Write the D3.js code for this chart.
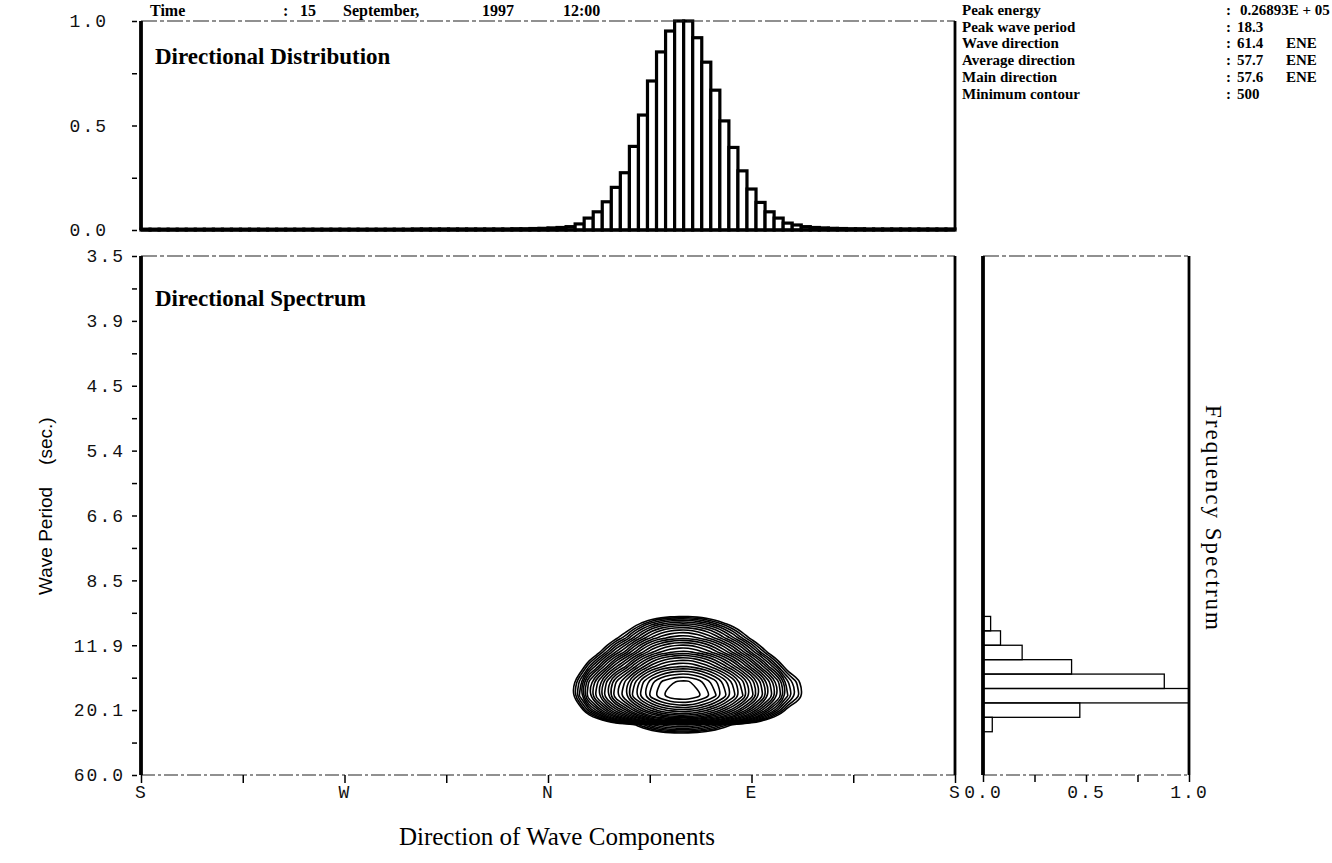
<!DOCTYPE html>
<html>
<head>
<meta charset="utf-8">
<script src="https://cdn.jsdelivr.net/npm/d3@7/dist/d3.min.js"></script>
<style>
  body { margin: 0; background: #fff; }
  svg { display: block; }
</style>
</head>
<body>
<div id="chart"></div>
<script>

// directional distribution, 4 degree bins, bin 0 starts at S (S, W, N, E, S)
var dist_values = [
  0.004, 0.004, 0.004, 0.004, 0.004, 0.004, 0.004, 0.004, 0.004, 0.004,
  0.004, 0.004, 0.004, 0.004, 0.004, 0.004, 0.004, 0.004, 0.004, 0.004,
  0.004, 0.004, 0.004, 0.004, 0.004, 0.004, 0.004, 0.004, 0.004, 0.004,
  0.005, 0.005, 0.005, 0.005, 0.005, 0.005, 0.005, 0.005, 0.005, 0.005,
  0.005, 0.006, 0.006, 0.007, 0.008, 0.010, 0.012, 0.016, 0.029, 0.057,
  0.087, 0.135, 0.204, 0.274, 0.400, 0.550, 0.713, 0.852, 0.952, 1.000,
  1.000, 0.920, 0.803, 0.669, 0.522, 0.395, 0.283, 0.196, 0.132, 0.087,
  0.057, 0.033, 0.024, 0.016, 0.012, 0.010, 0.008, 0.007, 0.006, 0.006,
  0.005, 0.005, 0.005, 0.005, 0.005, 0.005, 0.005, 0.005, 0.005, 0.005
];

// frequency spectrum, 36 bins from highest frequency (3.5 s) down to lowest (60 s)
var spec_values = [
  0, 0, 0, 0, 0, 0, 0, 0, 0, 0,
  0, 0, 0, 0, 0, 0, 0, 0, 0, 0,
  0, 0, 0, 0, 0, 0.037, 0.085, 0.19, 0.43, 0.88,
  1.0, 0.47, 0.045, 0, 0, 0
];

var period_labels = ["3.5", "3.9", "4.5", "5.4", "6.6", "8.5", "11.9", "20.1", "60.0"];
var dir_labels = ["S", "W", "N", "E", "S"];
var dist_labels = ["0.0", "0.5", "1.0"];
var spec_labels = ["0.0", "0.5", "1.0"];

var info_labels = ["Peak energy", "Peak wave period", "Wave direction", "Average direction", "Main direction", "Minimum contour"];
var info_values = ["0.26893E + 05", "18.3", "61.4", "57.7", "57.6", "500"];
var info_units = ["", "", "ENE", "ENE", "ENE", ""];

var peak_energy = 26893;
var min_contour = 500;
var n_levels = 28;

var W = 1332, H = 863;
var svg = d3.select("#chart").append("svg").attr("width", W).attr("height", H);

var serif = "'Liberation Serif', 'Times New Roman', serif";
var mono = "'Liberation Mono', 'DejaVu Sans Mono', monospace";

// panels
var top_p = {x0: 141, x1: 955, y0: 21, y1: 230};
var main_p = {x0: 141, x1: 955, y0: 256, y1: 775};
var freq_p = {x0: 983, x1: 1189, y0: 256, y1: 775};

var f_max = 1 / 3.5, f_min = 1 / 60;

var xDir = d3.scaleLinear().domain([0, 360]).range([main_p.x0, main_p.x1]);
var yDist = d3.scaleLinear().domain([0, 1]).range([top_p.y1, top_p.y0]);
var yFreq = d3.scaleLinear().domain([f_max, f_min]).range([main_p.y0, main_p.y1]);
var xSpec = d3.scaleLinear().domain([0, 1]).range([freq_p.x0, freq_p.x1]);

var dir_bin = 360 / dist_values.length;
var f_bin = (f_max - f_min) / spec_values.length;

// title line at the very top
var title_g = svg.append("g")
  .style("font-family", serif).style("font-size", "16px").style("font-weight", "bold");
[["Time", 150], [":", 283], ["15", 300], ["September,", 343], ["1997", 482], ["12:00", 563]].forEach(function(t) {
  title_g.append("text").attr("x", t[1]).attr("y", 16).text(t[0]);
});

// ---------- directional distribution ----------
svg.append("g")
  .selectAll("rect")
  .data(dist_values)
  .enter()
  .append("rect")
    .attr("x", function(d, i) { return xDir(i * dir_bin); })
    .attr("width", function() { return xDir(dir_bin) - xDir(0); })
    .attr("y", function(d) { return yDist(d); })
    .attr("height", function(d) { return yDist(0) - yDist(d); })
    .attr("fill", "white")
    .attr("stroke", "black")
    .attr("stroke-width", 3.2);

function frame(p, dashTop, dashBottom) {
  var g = svg.append("g");
  g.append("line").attr("x1", p.x0).attr("x2", p.x1).attr("y1", p.y0).attr("y2", p.y0)
    .attr("stroke", "#222").attr("stroke-width", 1.2).attr("stroke-dasharray", dashTop);
  g.append("line").attr("x1", p.x0).attr("x2", p.x1).attr("y1", p.y1).attr("y2", p.y1)
    .attr("stroke", "#222").attr("stroke-width", 1.2).attr("stroke-dasharray", dashBottom);
  g.append("line").attr("x1", p.x0).attr("x2", p.x0).attr("y1", p.y0).attr("y2", p.y1)
    .attr("stroke", "black").attr("stroke-width", 3.8);
  g.append("line").attr("x1", p.x1).attr("x2", p.x1).attr("y1", p.y0).attr("y2", p.y1)
    .attr("stroke", "black").attr("stroke-width", 2.8);
}

frame(top_p, "16,3,4,3", null);
svg.append("line").attr("x1", top_p.x0).attr("x2", top_p.x1).attr("y1", top_p.y1).attr("y2", top_p.y1)
  .attr("stroke", "black").attr("stroke-width", 2.8);

var distAxis = d3.axisLeft(yDist)
  .tickValues([0, 0.25, 0.5, 0.75, 1])
  .tickSize(5)
  .tickPadding(24)
  .tickFormat(function(d) { return (d * 4) % 2 === 0 ? dist_labels[d * 2] : ""; });

var gDist = svg.append("g").attr("transform", "translate(" + (top_p.x0 - 4) + ",0)").call(distAxis);
gDist.select(".domain").remove();

svg.append("text")
  .attr("x", 155).attr("y", 64)
  .style("font-family", serif).style("font-size", "23px").style("font-weight", "bold")
  .text("Directional Distribution");

// ---------- directional spectrum (contours) ----------
var grid = [];
for (var j = 0; j < spec_values.length; j++) {
  for (var i = 0; i < dist_values.length; i++) {
    grid.push(dist_values[i] * spec_values[j] * peak_energy);
  }
}

var levels = d3.range(n_levels).map(function(k) {
  return min_contour * Math.pow(peak_energy / min_contour, k / n_levels);
});

var contours = d3.contours()
  .size([dist_values.length, spec_values.length])
  .thresholds(levels)(grid);

var ring_line = d3.line()
  .x(function(p) { return xDir(p[0] * dir_bin); })
  .y(function(p) { return yFreq(f_max - p[1] * f_bin); })
  .curve(d3.curveBasisClosed);

var gCont = svg.append("g");
contours.forEach(function(c) {
  c.coordinates.forEach(function(poly) {
    poly.forEach(function(ring) {
      gCont.append("path")
        .attr("d", ring_line(ring.slice(0, -1)))
        .attr("fill", "none")
        .attr("stroke", "black")
        .attr("stroke-width", 1.6);
    });
  });
});

frame(main_p, "16,3,4,3", "14,3,3,3");

var periodTicks = d3.range(17).map(function(k) { return f_max - k * (f_max - f_min) / 16; });
var freqAxis = d3.axisLeft(yFreq)
  .tickValues(periodTicks)
  .tickSize(5)
  .tickPadding(7)
  .tickFormat(function(d, i) { return i % 2 === 0 ? period_labels[i / 2] : ""; });
var gFreq = svg.append("g").attr("transform", "translate(" + (main_p.x0 - 4) + ",0)").call(freqAxis);
gFreq.select(".domain").remove();

var dirAxis = d3.axisBottom(xDir)
  .tickValues(d3.range(0, 361, 45))
  .tickSize(8)
  .tickPadding(2)
  .tickFormat(function(d) { return d % 90 === 0 ? dir_labels[d / 90] : ""; });
var gDir = svg.append("g").attr("transform", "translate(0," + main_p.y1 + ")").call(dirAxis);
gDir.select(".domain").remove();

svg.append("text")
  .attr("x", 155).attr("y", 306)
  .style("font-family", serif).style("font-size", "23px").style("font-weight", "bold")
  .text("Directional Spectrum");

svg.append("text")
  .attr("x", 557).attr("y", 845)
  .attr("text-anchor", "middle")
  .style("font-family", serif).style("font-size", "25px")
  .text("Direction of Wave Components");

var ylab = svg.append("text")
  .attr("transform", "translate(52,595) rotate(-90)")
  .style("font-family", "'Liberation Sans', Arial, sans-serif").style("font-size", "19px");
ylab.append("tspan").text("Wave Period");
ylab.append("tspan").attr("dx", 22).text("(sec.)");

// ---------- frequency spectrum ----------
svg.append("g")
  .selectAll("rect")
  .data(spec_values)
  .enter()
  .append("rect")
    .attr("x", xSpec(0))
    .attr("y", function(d, i) { return yFreq(f_max - i * f_bin); })
    .attr("height", function() { return yFreq(f_max - f_bin) - yFreq(f_max); })
    .attr("width", function(d) { return xSpec(d) - xSpec(0); })
    .attr("fill", "none")
    .attr("stroke", function(d) { return d > 0 ? "black" : "none"; })
    .attr("stroke-width", 1.3);

frame(freq_p, "16,3,4,3", "14,3,3,3");

var specAxis = d3.axisBottom(xSpec)
  .tickValues([0, 0.25, 0.5, 0.75, 1])
  .tickSize(7)
  .tickPadding(3)
  .tickFormat(function(d) { return (d * 4) % 2 === 0 ? spec_labels[d * 2] : ""; });
var gSpec = svg.append("g").attr("transform", "translate(0," + freq_p.y1 + ")").call(specAxis);
gSpec.select(".domain").remove();

svg.append("text")
  .attr("transform", "translate(1206,405) rotate(90)")
  .style("font-family", serif).style("font-size", "23px").style("letter-spacing", "2px")
  .text("Frequency Spectrum");

// axis styling
svg.selectAll(".tick line").attr("stroke", "black").attr("stroke-width", 1.5);
svg.selectAll(".tick text")
  .style("font-family", mono).style("font-size", "18px").style("letter-spacing", "2px")
  .attr("fill", "#111");

// ---------- info block ----------
var info = svg.append("g")
  .style("font-family", serif).style("font-size", "15px").style("font-weight", "bold");
info_labels.forEach(function(lab, i) {
  var y = 15 + i * 16.7;
  info.append("text").attr("x", 962).attr("y", y).text(lab);
  info.append("text").attr("x", 1226).attr("y", y).text(":");
  info.append("text").attr("x", i === 0 ? 1240 : 1237).attr("y", y).text(info_values[i]);
  info.append("text").attr("x", 1286).attr("y", y).text(info_units[i]);
});

</script>
</body>
</html>
